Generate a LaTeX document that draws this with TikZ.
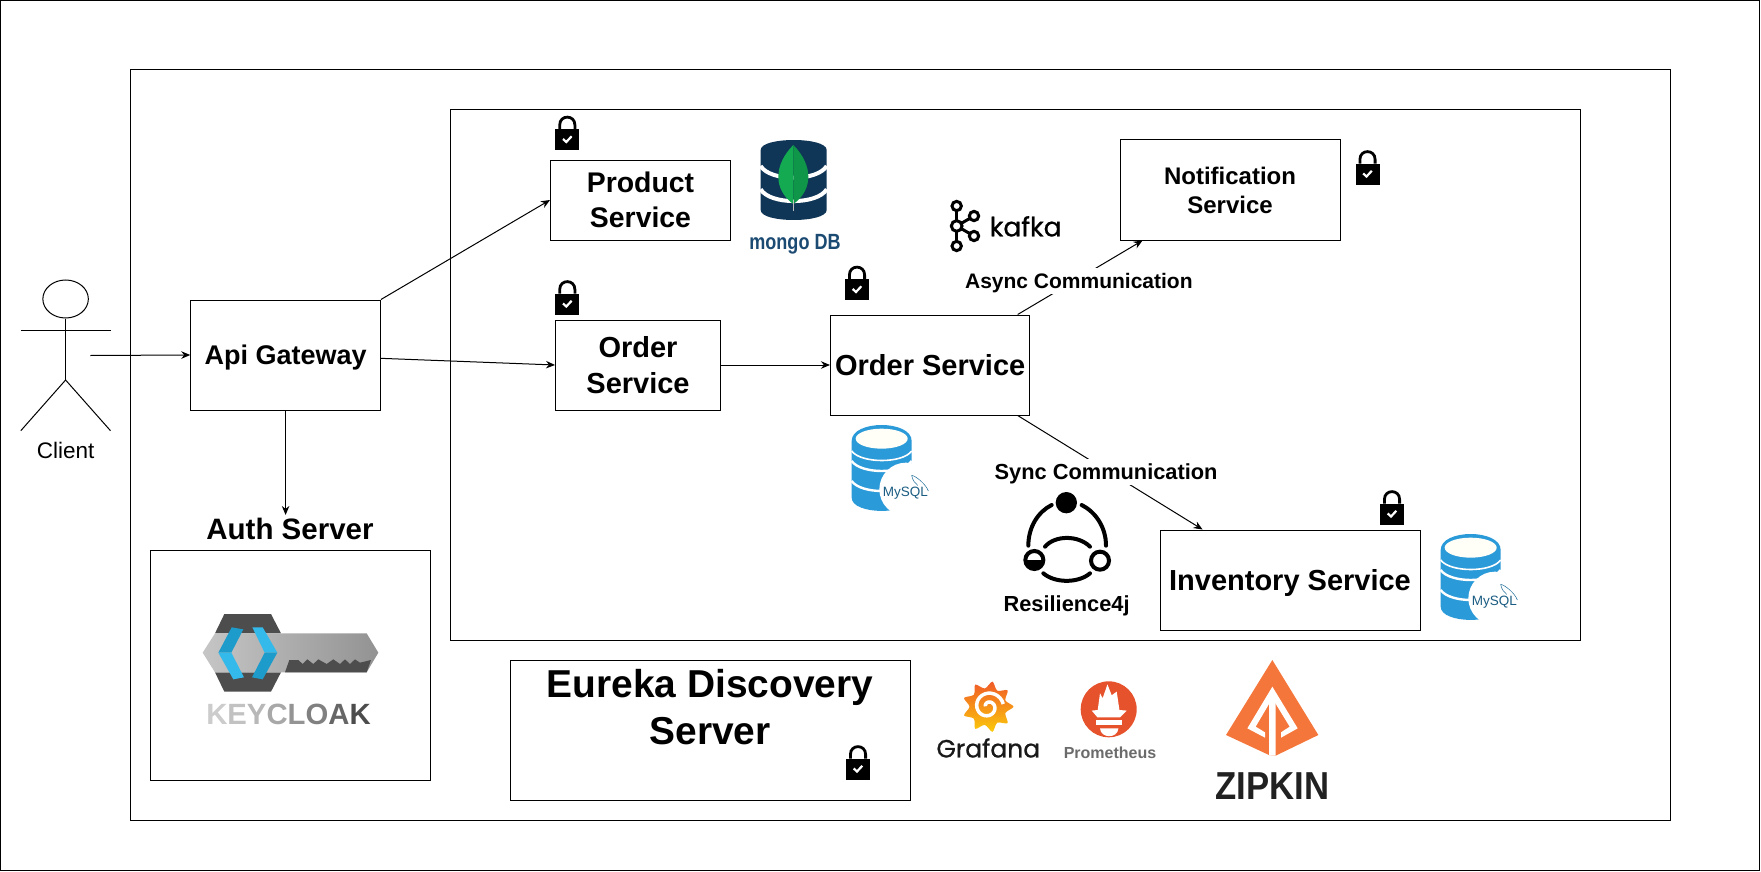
\documentclass[tikz,border=0pt]{standalone}
\usepackage{fontspec}
\setmainfont{Liberation Sans}
\newfontfamily\logofont[FakeBold=0.7]{Poppins}
\usetikzlibrary{arrows.meta, positioning, shapes.geometric, calc}

\tikzset{
  framebox/.style={draw, line width=1pt, inner sep=0pt},
  svcbox/.style 2 args={draw, line width=1pt, align=center, inner sep=0pt, text depth=0pt, font=\bfseries\fontsize{#1}{#2}\selectfont},
  linklabel/.style={fill=white, inner sep=0pt, minimum height=26pt, text depth=0pt, font=\bfseries\fontsize{#1}{25}\selectfont},
  conn/.style={-{Stealth[length=9pt, width=7.5pt]}, line width=1pt},
  lockicon/.pic={
    \draw[black, line width=2.8pt] (-7.6,-4) -- (-7.6,-8) .. controls (-7.6,-18.5) and (7.6,-18.5) .. (7.6,-8) -- (7.6,-4);
    \fill[black] (-12,-4) rectangle (12,17);
    \draw[white, line width=2.2pt] (-4.3,6) -- (-1,9) -- (4.3,3.3);
  },
  mysqlicon/.pic={
    % coordinates are 3x pixels of the icon
    \fill[mysqlblue] (32,75) -- (32,245) .. controls (32,298) and (212,298) .. (212,245) -- (212,75)
      .. controls (212,11) and (32,11) .. cycle;
    \fill[white!97!yellow] (122,68) ellipse [x radius=78, y radius=30];
    \draw[white, line width=1.6pt] (32,105) .. controls (60,143) and (185,143) .. (212,105);
    \draw[white, line width=2.4pt] (32,135) .. controls (60,175) and (185,175) .. (212,135);
    \draw[white, line width=2.4pt] (32,195) .. controls (60,235) and (185,235) .. (212,195);
    \fill[white] (195,220) circle [radius=80];
    \draw[mysqlblue!70!black, line width=.5pt] (212,178) .. controls (225,180) and (255,205) .. (262,225);
    \draw[mysqlblue!70!black, line width=.5pt] (212,178) .. controls (215,195) and (222,200) .. (230,208);
    \node[text=mysqlblue!60!black, font=\fontsize{13.5}{14}\selectfont] (-name) at (193,232) {MySQL};
  },
}

\begin{document}
\begin{tikzpicture}[x=1pt, y=-1pt]
  % Define colors
  \definecolor{mysqlblue}{RGB}{43,154,217}
  \definecolor{mongonavy}{RGB}{15,53,87}
  \definecolor{mongotext}{RGB}{27,74,114}
  \definecolor{mongoleaf}{RGB}{19,170,82}
  \definecolor{mongoleafb}{RGB}{15,150,72}
  \definecolor{kcdark}{RGB}{77,77,77}
  \definecolor{kcblue}{RGB}{29,155,203}
  \definecolor{kclight}{RGB}{51,185,234}
  \definecolor{promred}{RGB}{230,82,44}
  \definecolor{zipkinorange}{RGB}{245,118,58}
  \definecolor{grafred}{RGB}{240,90,40}
  \definecolor{grafyellow}{RGB}{251,202,10}

  \useasboundingbox (0,0) rectangle (1761,872);

  % Frames
  \node[framebox, minimum width=1758.8pt, minimum height=869.6pt] (pageframe) at (880.1,435.5) {};
  \node[framebox, minimum width=1540pt, minimum height=750pt] (systemframe) at (900,445) {};
  \node[framebox, minimum width=1129.4pt, minimum height=530pt] (serviceframe) at (1015.3,375) {};

  % Client
  \node[ellipse, draw, line width=1pt, minimum width=45.5pt, minimum height=38pt, inner sep=0pt] (clienthead) at (65.6,299) {};
  \coordinate (clienthip) at (65.6,380);
  \coordinate (clientout) at (90.3,355.5);
  \draw[line width=1pt] (clienthead.south) -- (clienthip);
  \draw[line width=1pt] (20.8,330) -- (110.5,330);
  \draw[line width=1pt] (20.8,430.7) -- (clienthip) -- (110.5,430.7);
  \node[font=\fontsize{22.5}{27}\selectfont] (clientlabel) at (65.6,450) {Client};

  % Services
  \node[svcbox={27}{33}, minimum width=189.7pt, minimum height=110pt] (api) at (285.6,355) {Api Gateway};
  \node[svcbox={28.4}{35}, minimum width=180pt, minimum height=80pt] (product) at (640.5,200) {Product\\Service};
  \node[svcbox={29}{36}, minimum width=165pt, minimum height=90pt] (ordera) at (638,365) {Order\\Service};
  \node[svcbox={29}{35}, minimum width=199.5pt, minimum height=100pt] (orderb) at (930.2,365) {Order Service};
  \node[svcbox={24}{29}, minimum width=220pt, minimum height=100pt] (notif) at (1230,190) {Notification\\Service};
  \node[svcbox={29}{35}, minimum width=260pt, minimum height=100pt] (inventory) at (1290,580) {Inventory Service};

  % Auth server
  \node[font=\bfseries\fontsize{29.5}{34}\selectfont, inner sep=3pt] (authlabel) at (290,529) {Auth Server};
  \node[framebox, minimum width=280pt, minimum height=230pt] (authbox) at (290.4,665.3) {};

  % Discovery server
  \node[framebox, minimum width=400pt, minimum height=140pt] (eureka) at (710,730) {};
  \node[align=center, inner sep=0pt, font=\bfseries\fontsize{38.9}{47}\selectfont] (eurekalabel) at (710,707) {Eureka Discovery\\Server};

  % Locks
  \pic (lockproduct) at (567.3,133) {lockicon};
  \pic (lockordera) at (567.3,297.5) {lockicon};
  \pic (lockorderb) at (857,283) {lockicon};
  \pic (locknotif) at (1367.5,167.5) {lockicon};
  \pic (lockinventory) at (1392,507.5) {lockicon};
  \pic (lockeureka) at (858,762.5) {lockicon};

  % Arrows
  \draw[conn] (clientout) -- (api.west);
  \draw[conn] (api.north east) -- (product.west);
  \draw[conn] (api.-2) -- (ordera.west);
  \draw[conn] (ordera.east) -- (orderb.west);
  \draw[conn] (api.south) -- (api.south |- authlabel.north);
  \draw[conn] (orderb.30) -- node[linklabel=21, pos=.45, xshift=5pt] (asynclabel) {Async Communication} (notif.210);
  \draw[conn] (orderb.-30) -- node[linklabel=21.8, xshift=-4pt, yshift=1pt] (synclabel) {Sync Communication} (inventory.150);

  % MongoDB
  \begin{scope}[shift={(730,100)}, scale=1/3]
    \fill[mongonavy] (92,150) -- (92,330) .. controls (92,370) and (290,370) .. (290,330) -- (290,150)
      .. controls (290,110) and (92,110) .. cycle;
    \draw[white, line width=4pt] (92,198) .. controls (120,245) and (262,245) .. (290,198);
    \draw[white, line width=4pt] (92,268) .. controls (120,315) and (262,315) .. (290,268);
    \fill[mongoleaf] (190,135) .. controls (130,195) and (130,270) .. (190,312) -- cycle;
    \fill[mongoleafb] (190,135) .. controls (250,195) and (250,270) .. (190,312) -- cycle;
    \draw[gray!50, line width=1.2pt] (190,300) -- (190,332);
    \node[text=mongotext, xscale=.82, text depth=0pt, font=\bfseries\fontsize{22}{24}\selectfont] (mongolabel) at (195,425) {mongo DB};
  \end{scope}

  % Kafka
  \begin{scope}[shift={(940,190)}, scale=1/3]
    \draw[line width=3pt] (50,48) -- (50,168);
    \draw[line width=3pt] (102,78) -- (50,108) -- (102,138);
    \foreach \kx/\ky in {50/48, 50/168, 102/78, 102/138}
      \draw[fill=white, line width=3pt] (\kx,\ky) circle [radius=14];
    \draw[fill=white, line width=3pt] (50,108) circle [radius=16];
    \node[font=\logofont\fontsize{26.5}{28}\selectfont] (kafkalabel) at (257,109) {kafka};
  \end{scope}

  % Resilience4j
  \begin{scope}[shift={(1000,480)}, scale=1/3, line width=4pt, line cap=round]
    \fill (199,68) circle [radius=32];
    \draw (155,75) .. controls (115,95) and (85,140) .. (85,197);
    \draw (245,75) .. controls (285,95) and (318,140) .. (318,197);
    \draw (135,200) .. controls (165,165) and (235,165) .. (270,200);
    \draw (130,280) .. controls (165,310) and (235,310) .. (270,280);
    \fill (76,240) arc (180:0:27) -- cycle;
    \draw (103,240) circle [radius=27];
    \draw (300,242) circle [radius=27];
  \end{scope}
  \node[text depth=0pt, font=\bfseries\fontsize{21.8}{26}\selectfont] (resilabel) at (1066.6,604) {Resilience4j};

  % MySQL
  \pic[scale=1/3] (mysqlorder) at (841,416) {mysqlicon};
  \pic[scale=1/3] (mysqlinventory) at (1430,525) {mysqlicon};

  % Keycloak
  \begin{scope}[shift={(170,590)}, scale=1/3]
    \fill[kcdark] (163,72) -- (303,72) -- (333,130) -- (135,130) -- cycle;
    \fill[kcdark] (135,247) -- (333,247) -- (303,305) -- (163,305) -- cycle;
    \shade[left color=gray!45, right color=gray!85] (135,130) -- (590,130) -- (625,188) -- (590,247) -- (135,247) -- (98,188) -- cycle;
    \fill[kcdark] (345,247) -- (358,210) -- (385,210) -- (398,222) -- (412,208) -- (430,222) -- (445,208)
      -- (470,222) -- (490,208) -- (510,222) -- (525,208) -- (540,222) -- (555,208) -- (570,218) -- (603,210) -- (590,247) -- cycle;
    \fill[kcblue] (145,188) -- (185,112) -- (220,118) -- (184,188) -- cycle;
    \fill[kclight] (145,188) -- (184,188) -- (222,262) -- (190,268) -- cycle;
    \fill[kclight] (247,112) -- (278,112) -- (322,188) -- (284,188) -- cycle;
    \fill[kcblue] (322,188) -- (278,268) -- (246,262) -- (284,188) -- cycle;
  \end{scope}
  \node[font=\bfseries\fontsize{29.3}{32}\selectfont] (kclabel) at (288.5,714) {\textcolor{black!20}{K}\textcolor{black!24}{E}\textcolor{black!28}{Y}\textcolor{black!34}{C}\textcolor{black!42}{L}\textcolor{black!50}{O}\textcolor{black!60}{A}\textcolor{black!70}{K}};

  % Grafana
  \begin{scope}[shift={(988,706.7)}]
    \shade[top color=grafred, bottom color=grafyellow] plot[smooth cycle, domain=0:340, samples=18]
      ({(22+3.5*cos(9*\x))*cos(\x)}, {(22+3.5*cos(9*\x))*sin(\x)});
    \draw[white, line width=3.5pt] plot[smooth, domain=0:520, samples=40]
      ({(2.5+\x*.025)*cos(\x+190)}, {(2.5+\x*.025)*sin(\x+190)});
  \end{scope}
  \node[font=\logofont\fontsize{25}{28}\selectfont, text=black!90] (grafanalabel) at (988.3,748) {Grafana};

  % Prometheus
  \begin{scope}[shift={(1108.7,709.3)}]
    \fill[promred] (0,0) circle [radius=28];
    \fill[white] (-17,1.3) -- (-11,.7) -- (-8.7,-16) -- (-6,-11) -- (-1.3,-25) -- (3,-14) -- (8,-17.7) -- (10.7,.7)
      -- (18,1.3) -- (11.3,8) -- (-11.3,8) -- cycle;
    \fill[white] (-12.7,10.7) rectangle (13,15.7);
    \fill[white] (-8.7,19) .. controls (-8,29.5) and (9,29.5) .. (9.7,19) -- cycle;
  \end{scope}
  \node[font=\bfseries\fontsize{16}{18}\selectfont, text=black!58] (promlabel) at (1110,752.7) {Prometheus};

  % Zipkin
  \begin{scope}[shift={(1215,655)}, scale=1/3]
    \fill[zipkinorange] (172,15) -- (310,240) -- (182,302) -- (162,300) -- (33,240) -- cycle;
    \fill[white] (172,95) -- (248,220) -- (198,248) -- (198,232) -- (224,215) -- (172,130) -- (122,215)
      -- (150,232) -- (150,248) -- (97,220) -- cycle;
    \fill[white] (162,135) -- (172,110) -- (182,135) -- (182,302) -- (162,300) -- cycle;
  \end{scope}
  \node[font=\bfseries\fontsize{39}{42}\selectfont, text=black!87, xscale=.89] (zipkinlabel) at (1272.5,786) {ZIPKIN};
\end{tikzpicture}
\end{document}
